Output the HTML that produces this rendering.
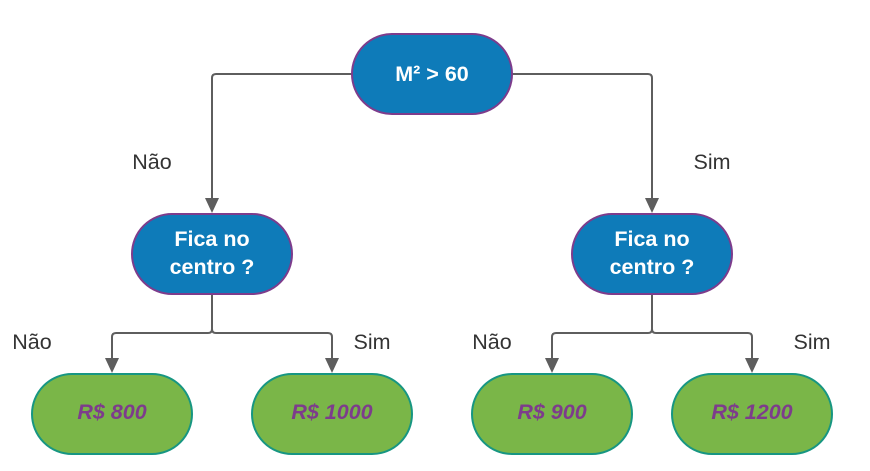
<!DOCTYPE html>
<html><head><style>body{margin:0;background:#fff}</style></head><body>
<svg width="870" height="466" xmlns="http://www.w3.org/2000/svg" font-family="Liberation Sans, Arial, sans-serif">
<g stroke="#5e5e5e" stroke-width="2" fill="none">
<path d="M352,74 H216 Q212,74 212,78 V202"/>
<path d="M512,74 H648 Q652,74 652,78 V202"/>
<path d="M212,294 V329 Q212,333 208,333 H116 Q112,333 112,337 V362"/>
<path d="M212,329 Q212,333 216,333 H328 Q332,333 332,337 V362"/>
<path d="M652,294 V329 Q652,333 648,333 H556 Q552,333 552,337 V362"/>
<path d="M652,329 Q652,333 656,333 H748 Q752,333 752,337 V362"/>
</g>
<g fill="#5e5e5e">
<path d="M205,198 L219,198 L212,213z"/><path d="M645,198 L659,198 L652,213z"/>
<path d="M105,358 L119,358 L112,373z"/><path d="M325,358 L339,358 L332,373z"/>
<path d="M545,358 L559,358 L552,373z"/><path d="M745,358 L759,358 L752,373z"/>
</g>
<g fill="#0e7bb9" stroke="#7d3c8c" stroke-width="2">
<rect x="352" y="34" width="160" height="80" rx="40"/>
<rect x="132" y="214" width="160" height="80" rx="40"/>
<rect x="572" y="214" width="160" height="80" rx="40"/>
</g>
<g fill="#7ab648" stroke="#179682" stroke-width="2">
<rect x="32" y="374" width="160" height="80" rx="40"/>
<rect x="252" y="374" width="160" height="80" rx="40"/>
<rect x="472" y="374" width="160" height="80" rx="40"/>
<rect x="672" y="374" width="160" height="80" rx="40"/>
</g>
<g fill="#fff" font-weight="bold" font-size="21.5" text-anchor="middle">
<text x="432" y="81">M² &gt; 60</text>
<text x="212" y="246">Fica no</text><text x="212" y="274">centro ?</text>
<text x="652" y="246">Fica no</text><text x="652" y="274">centro ?</text>
</g>
<g fill="#7d3c8c" font-weight="bold" font-style="italic" font-size="21.5" text-anchor="middle">
<text x="112" y="419">R$ 800</text><text x="332" y="419">R$ 1000</text>
<text x="552" y="419">R$ 900</text><text x="752" y="419">R$ 1200</text>
</g>
<g fill="#333" font-size="21.5" text-anchor="middle">
<text x="152" y="169">Não</text><text x="712" y="169">Sim</text>
<text x="32" y="349">Não</text><text x="372" y="349">Sim</text>
<text x="492" y="349">Não</text><text x="812" y="349">Sim</text>
</g>
</svg>
</body></html>
